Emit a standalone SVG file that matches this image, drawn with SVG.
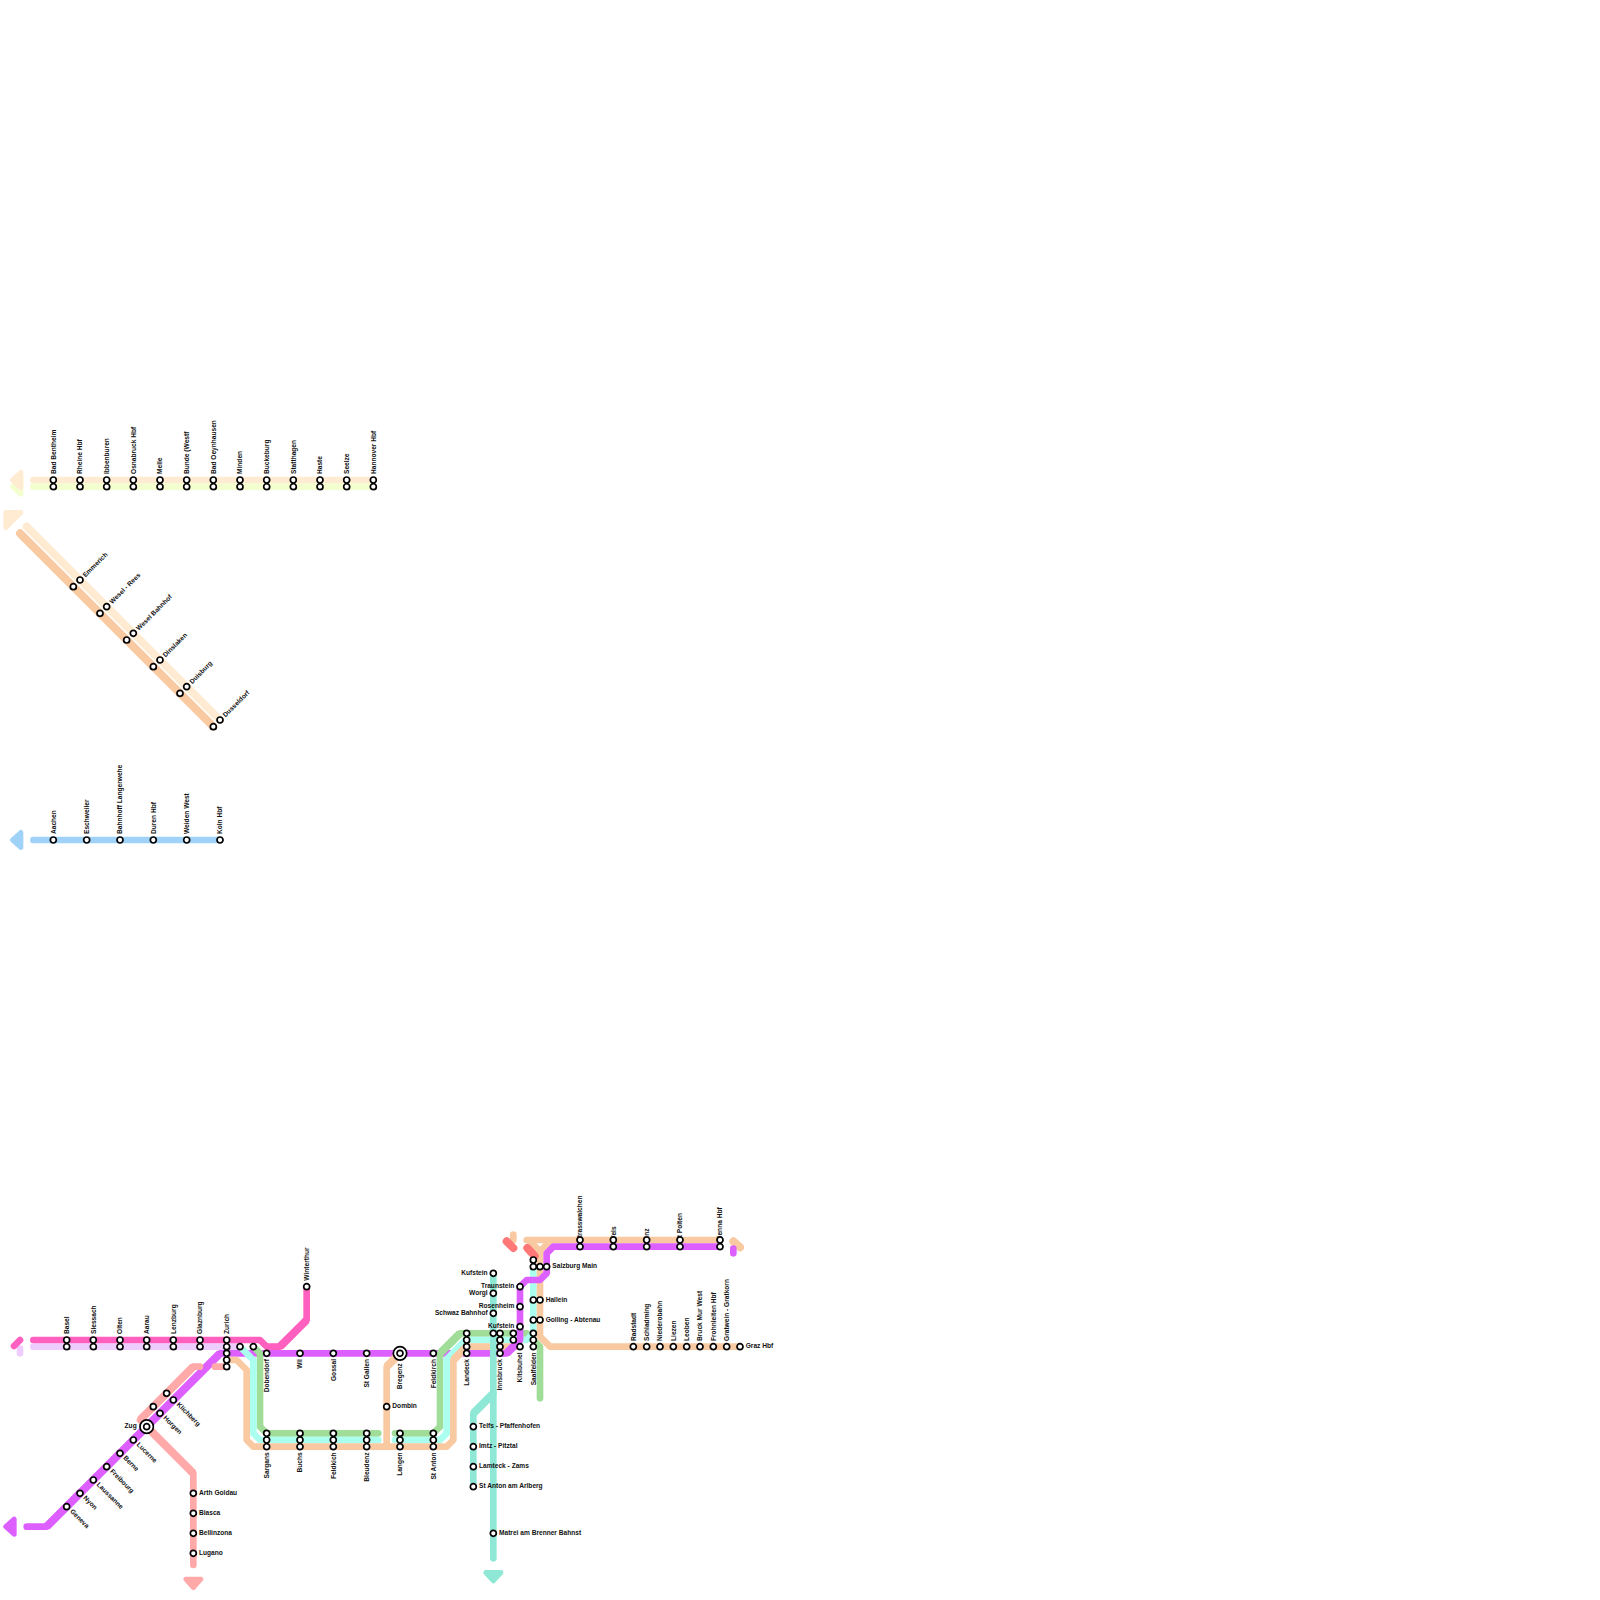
<svg xmlns="http://www.w3.org/2000/svg" width="1600" height="1600" viewBox="0 0 1600 1600">
<style>
.l{fill:none;stroke-width:1;stroke-linecap:round;stroke-linejoin:round}
.d{fill:none;stroke-width:1.2;stroke-linecap:butt}
.r{stroke-linecap:round}
.a{stroke-width:5;stroke-linejoin:round}
.st{fill:#fff;stroke:#000;stroke-width:1.7}
.bg{fill:#fff;stroke:#000;stroke-width:1.7}
text{font-family:"Liberation Sans",Arial,sans-serif;font-size:6.6px;font-weight:700;fill:#111}
.e{text-anchor:end}
.pink{stroke:#ff5fbf}.lav{stroke:#efccff}.pur{stroke:#dd5fff}.sal{stroke:#ffa9a9}.ora{stroke:#f9c9a1}
.tea{stroke:#aaffee}.gre{stroke:#a0dd99}.tes{stroke:#8fe8d5}.red{stroke:#ff7777}.sky{stroke:#a0d2f8}.lor{stroke:#ffebd2}.lim{stroke:#f3ffcf}
.fpur{fill:#dd5fff;stroke:#dd5fff}.fsal{fill:#ffa9a9;stroke:#ffa9a9}.ftes{fill:#8fe8d5;stroke:#8fe8d5}.fsky{fill:#a0d2f8;stroke:#a0d2f8}.flor{fill:#ffebd2;stroke:#ffebd2}.flim{fill:#f3ffcf;stroke:#f3ffcf}
</style>
<g id="arrows">
<polygon class="a flim" points="12.5,486.67 20.83,479.17 20.83,494.17"/>
<polygon class="a flor" points="12.5,480 20.83,472.5 20.83,487.5"/>
<polygon class="a flor" points="5.83,512.5 20.83,512.5 5.83,527.5"/>
<polygon class="a fsky" points="12.5,840 20.83,832.5 20.83,847.5"/>
<polygon class="a fpur" points="5.83,1526.67 14.16,1519.17 14.16,1534.17"/>
<polygon class="a fsal" points="185.83,1579.17 200.83,1579.17 193.33,1587.5"/>
<polygon class="a ftes" points="485.83,1572.5 500.83,1572.5 493.33,1580.83"/>
</g>
<g id="connectors" transform="scale(6.66667)">
<polyline class="l lim" points="5,73 56,73"/>
<polyline class="l lor" points="5,72 56,72"/>
<path class="d r ora" d="M3,80L32,109"/>
<path class="d r lor" d="M4,79L33,108"/>
<polyline class="l sky" points="5,126 33,126"/>
<polyline class="l pur" points="4,229 7,229 33,203 75.5,203"/><path class="d pur" d="M7,229L33,203"/>
<polyline class="l lav" points="5,202 36,202"/>
<polyline class="l lav" points="3,202.3 3,203"/>
<polyline class="l gre" points="38,202 39,203 39,214 40,215 56.75,215"/>
<polyline class="l gre" points="59.25,215 65,215 66,214 66,203 69,200 79,200 81,202 81,209.75"/><path class="d gre" d="M66,203L69,200"/>
<polyline class="l tea" points="36,202 38,204 38,215 39,216 56.75,216"/>
<polyline class="l tea" points="59.25,216 66,216 67,215 67,204 70,201 79,201 80,200 80,190"/><path class="d tea" d="M67,204L70,201"/>
<polyline class="l ora" points="34,204 35.5,204 37,205.5 37,216 38,217 67,217 68,216 68,204 70,202 78,202"/><path class="d ora" d="M68,204L70,202"/>
<polyline class="l ora" points="58,217 58,205 60,203"/><path class="d ora" d="M58,205L60,203"/>
<polyline class="l ora" points="79,186 108,186"/>
<polyline class="l ora" points="82.5,186.2 81,187.7 81,200.5 82.5,202 111,202"/>
<polyline class="l ora" points="79.5,186.2 81,187.7"/>
<polyline class="l ora" points="77,185.2 77,186"/>
<path class="d r ora" d="M110,186.2L111,187.1"/>
<polyline class="l pur" points="110,187.3 110,188"/>
<polyline class="l pur" points="75.5,203 76,203 78,201 78,193 79,192 81,192 82,191 82,188 83,187 108,187"/><path class="d pur" d="M76,203L78,201"/>
<polyline class="l pink" points="5,201 39,201 40,202 42,202 46,198 46,193"/><path class="d pink" d="M42,202L46,198"/>
<path class="l pink" d="M2.1,201.9L3,201"/>
<polyline class="l sal" points="30,205 29,205 21,213 22,214 29,221 29,234.75"/><path class="d sal" d="M29,205L21,213M22,214L29,221"/>
<polyline class="l sal" points="32.25,205 34,205"/>
<polyline class="l tes" points="74,191 74,233.75"/>
<polyline class="l tes" points="71,223 71,212 74,209"/><path class="d tes" d="M71,212L74,209"/>
<path class="d r red" d="M76,186.2L77,187.2M79.1,187.2L80.2,188.4"/>
</g>
<g id="stations">
<g id="n-bad-bentheim" transform="translate(53.33 480)"><text transform="translate(2.3 -6) rotate(-90)">Bad Bentheim</text><circle class="st" r="3"/><circle class="st" cy="6.67" r="3"/></g>
<g id="n-rheine" transform="translate(80 480)"><text transform="translate(2.3 -6) rotate(-90)">Rheine Hbf</text><circle class="st" r="3"/><circle class="st" cy="6.67" r="3"/></g>
<g id="n-ibbenburen" transform="translate(106.67 480)"><text transform="translate(2.3 -6) rotate(-90)">Ibbenburen</text><circle class="st" r="3"/><circle class="st" cy="6.67" r="3"/></g>
<g id="n-osnabruck" transform="translate(133.33 480)"><text transform="translate(2.3 -6) rotate(-90)">Osnabruck Hbf</text><circle class="st" r="3"/><circle class="st" cy="6.67" r="3"/></g>
<g id="n-melle" transform="translate(160 480)"><text transform="translate(2.3 -6) rotate(-90)">Melle</text><circle class="st" r="3"/><circle class="st" cy="6.67" r="3"/></g>
<g id="n-bunde" transform="translate(186.67 480)"><text transform="translate(2.3 -6) rotate(-90)">Bunde (Westf</text><circle class="st" r="3"/><circle class="st" cy="6.67" r="3"/></g>
<g id="n-bad-oeynhausen" transform="translate(213.33 480)"><text transform="translate(2.3 -6) rotate(-90)">Bad Oeynhausen</text><circle class="st" r="3"/><circle class="st" cy="6.67" r="3"/></g>
<g id="n-minden" transform="translate(240 480)"><text transform="translate(2.3 -6) rotate(-90)">Minden</text><circle class="st" r="3"/><circle class="st" cy="6.67" r="3"/></g>
<g id="n-buckeburg" transform="translate(266.67 480)"><text transform="translate(2.3 -6) rotate(-90)">Buckeburg</text><circle class="st" r="3"/><circle class="st" cy="6.67" r="3"/></g>
<g id="n-stadthagen" transform="translate(293.33 480)"><text transform="translate(2.3 -6) rotate(-90)">Statthagen</text><circle class="st" r="3"/><circle class="st" cy="6.67" r="3"/></g>
<g id="n-haste" transform="translate(320 480)"><text transform="translate(2.3 -6) rotate(-90)">Haste</text><circle class="st" r="3"/><circle class="st" cy="6.67" r="3"/></g>
<g id="n-seelze" transform="translate(346.67 480)"><text transform="translate(2.3 -6) rotate(-90)">Seelze</text><circle class="st" r="3"/><circle class="st" cy="6.67" r="3"/></g>
<g id="n-hannover" transform="translate(373.33 480)"><text transform="translate(2.3 -6) rotate(-90)">Hannover Hbf</text><circle class="st" r="3"/><circle class="st" cy="6.67" r="3"/></g>

<g id="n-emmerich" transform="translate(80 580)"><text transform="translate(5.5 -2.5) rotate(-45)">Emmerich</text><circle class="st" r="3"/><circle class="st" cx="-6.67" cy="6.67" r="3"/></g>
<g id="n-wesel-rees" transform="translate(106.67 606.67)"><text transform="translate(5.5 -2.5) rotate(-45)">Wesel - Rees</text><circle class="st" r="3"/><circle class="st" cx="-6.67" cy="6.67" r="3"/></g>
<g id="n-wesel-bahnhof" transform="translate(133.33 633.33)"><text transform="translate(5.5 -2.5) rotate(-45)">Wesel Bahnhof</text><circle class="st" r="3"/><circle class="st" cx="-6.67" cy="6.67" r="3"/></g>
<g id="n-dinslaken" transform="translate(160 660)"><text transform="translate(5.5 -2.5) rotate(-45)">Dinslaken</text><circle class="st" r="3"/><circle class="st" cx="-6.67" cy="6.67" r="3"/></g>
<g id="n-duisburg" transform="translate(186.67 686.67)"><text transform="translate(5.5 -2.5) rotate(-45)">Duisburg</text><circle class="st" r="3"/><circle class="st" cx="-6.67" cy="6.67" r="3"/></g>
<g id="n-dusseldorf" transform="translate(220 720)"><text transform="translate(5.5 -2.5) rotate(-45)">Dusseldorf</text><circle class="st" r="3"/><circle class="st" cx="-6.67" cy="6.67" r="3"/></g>

<g id="n-aachen" transform="translate(53.33 840)"><text transform="translate(2.3 -6) rotate(-90)">Aachen</text><circle class="st" r="3"/></g>
<g id="n-eschweiler" transform="translate(86.67 840)"><text transform="translate(2.3 -6) rotate(-90)">Eschweiler</text><circle class="st" r="3"/></g>
<g id="n-langerwehe" transform="translate(120 840)"><text transform="translate(2.3 -6) rotate(-90)">Bahnhoff Langerwehe</text><circle class="st" r="3"/></g>
<g id="n-duren" transform="translate(153.33 840)"><text transform="translate(2.3 -6) rotate(-90)">Duren Hbf</text><circle class="st" r="3"/></g>
<g id="n-weiden" transform="translate(186.67 840)"><text transform="translate(2.3 -6) rotate(-90)">Weiden West</text><circle class="st" r="3"/></g>
<g id="n-koln" transform="translate(220 840)"><text transform="translate(2.3 -6) rotate(-90)">Koln Hbf</text><circle class="st" r="3"/></g>

<g id="n-basel" transform="translate(66.67 1340)"><text transform="translate(2.3 -6) rotate(-90)">Basel</text><circle class="st" r="3"/><circle class="st" cy="6.67" r="3"/></g>
<g id="n-slessach" transform="translate(93.33 1340)"><text transform="translate(2.3 -6) rotate(-90)">Slessach</text><circle class="st" r="3"/><circle class="st" cy="6.67" r="3"/></g>
<g id="n-olten" transform="translate(120 1340)"><text transform="translate(2.3 -6) rotate(-90)">Olten</text><circle class="st" r="3"/><circle class="st" cy="6.67" r="3"/></g>
<g id="n-aarau" transform="translate(146.67 1340)"><text transform="translate(2.3 -6) rotate(-90)">Aarau</text><circle class="st" r="3"/><circle class="st" cy="6.67" r="3"/></g>
<g id="n-lenzburg" transform="translate(173.33 1340)"><text transform="translate(2.3 -6) rotate(-90)">Lenzburg</text><circle class="st" r="3"/><circle class="st" cy="6.67" r="3"/></g>
<g id="n-glaznburg" transform="translate(200 1340)"><text transform="translate(2.3 -6) rotate(-90)">Glaznburg</text><circle class="st" r="3"/><circle class="st" cy="6.67" r="3"/></g>
<g id="n-zurich" transform="translate(226.67 1340)"><text transform="translate(2.3 -6) rotate(-90)">Zurich</text><circle class="st" r="3"/><circle class="st" cy="6.67" r="3"/><circle class="st" cy="13.33" r="3"/><circle class="st" cy="20" r="3"/><circle class="st" cy="26.67" r="3"/></g>
<g id="n-x1" transform="translate(240 1346.67)"><circle class="st" r="3"/></g>
<g id="n-x2" transform="translate(253.33 1346.67)"><circle class="st" r="3"/></g>
<g id="n-winterthur" transform="translate(306.67 1286.67)"><text transform="translate(2.3 -6) rotate(-90)">Winterthur</text><circle class="st" r="3"/></g>

<g id="n-geneva" transform="translate(66.67 1506.67)"><text transform="translate(3 5) rotate(45)">Geneva</text><circle class="st" r="3"/></g>
<g id="n-nyon" transform="translate(80 1493.33)"><text transform="translate(3 5) rotate(45)">Nyon</text><circle class="st" r="3"/></g>
<g id="n-lausanne" transform="translate(93.33 1480)"><text transform="translate(3 5) rotate(45)">Laussanne</text><circle class="st" r="3"/></g>
<g id="n-freibourg" transform="translate(106.67 1466.67)"><text transform="translate(3 5) rotate(45)">Freibourg</text><circle class="st" r="3"/></g>
<g id="n-berne" transform="translate(120 1453.33)"><text transform="translate(3 5) rotate(45)">Berne</text><circle class="st" r="3"/></g>
<g id="n-lucerne" transform="translate(133.33 1440)"><text transform="translate(3 5) rotate(45)">Lucerne</text><circle class="st" r="3"/></g>
<g id="n-zug" transform="translate(146.67 1426.67)"><text class="e" x="-10" y="1.7">Zug</text><circle class="bg" r="6.7"/><circle class="st" r="3"/></g>
<g id="n-horgen" transform="translate(160 1413.33)"><text transform="translate(3 5) rotate(45)">Horgen</text><circle class="st" r="3"/><circle class="st" cx="-6.67" cy="-6.67" r="3"/></g>
<g id="n-kilchberg" transform="translate(173.33 1400)"><text transform="translate(3 5) rotate(45)">Klichberg</text><circle class="st" r="3"/><circle class="st" cx="-6.67" cy="-6.67" r="3"/></g>
<g id="n-arth" transform="translate(193.33 1493.33)"><text x="5.7" y="1.7">Arth Goldau</text><circle class="st" r="3"/></g>
<g id="n-biasca" transform="translate(193.33 1513.33)"><text x="5.7" y="1.7">Biasca</text><circle class="st" r="3"/></g>
<g id="n-bellinzona" transform="translate(193.33 1533.33)"><text x="5.7" y="1.7">Bellinzona</text><circle class="st" r="3"/></g>
<g id="n-lugano" transform="translate(193.33 1553.33)"><text x="5.7" y="1.7">Lugano</text><circle class="st" r="3"/></g>

<g id="n-dobendorf" transform="translate(266.67 1353.33)"><text class="e" transform="translate(2.3 5.7) rotate(-90)">Dobendorf</text><circle class="st" r="3"/></g>
<g id="n-wil" transform="translate(300 1353.33)"><text class="e" transform="translate(2.3 5.7) rotate(-90)">Wil</text><circle class="st" r="3"/></g>
<g id="n-gossal" transform="translate(333.33 1353.33)"><text class="e" transform="translate(2.3 5.7) rotate(-90)">Gossal</text><circle class="st" r="3"/></g>
<g id="n-st-gallen" transform="translate(366.67 1353.33)"><text class="e" transform="translate(2.3 5.7) rotate(-90)">St Gallen</text><circle class="st" r="3"/></g>
<g id="n-bregenz" transform="translate(400 1353.33)"><text class="e" transform="translate(2.3 10) rotate(-90)">Bregenz</text><circle class="bg" r="6.7"/><circle class="st" r="3"/></g>
<g id="n-feldkirch-1" transform="translate(433.33 1353.33)"><text class="e" transform="translate(2.3 5.7) rotate(-90)">Feldkirch</text><circle class="st" r="3"/></g>
<g id="n-dombin" transform="translate(386.67 1406.67)"><text x="5.7" y="1.7">Dombin</text><circle class="st" r="3"/></g>

<g id="n-sargans" transform="translate(266.67 1446.67)"><text class="e" transform="translate(2.3 5.7) rotate(-90)">Sargans</text><circle class="st" r="3"/><circle class="st" cy="-6.67" r="3"/><circle class="st" cy="-13.33" r="3"/></g>
<g id="n-buchs" transform="translate(300 1446.67)"><text class="e" transform="translate(2.3 5.7) rotate(-90)">Buchs</text><circle class="st" r="3"/><circle class="st" cy="-6.67" r="3"/><circle class="st" cy="-13.33" r="3"/></g>
<g id="n-feldkirch-2" transform="translate(333.33 1446.67)"><text class="e" transform="translate(2.3 5.7) rotate(-90)">Feldkich</text><circle class="st" r="3"/><circle class="st" cy="-6.67" r="3"/><circle class="st" cy="-13.33" r="3"/></g>
<g id="n-bleudenz" transform="translate(366.67 1446.67)"><text class="e" transform="translate(2.3 5.7) rotate(-90)">Bleudenz</text><circle class="st" r="3"/><circle class="st" cy="-6.67" r="3"/><circle class="st" cy="-13.33" r="3"/></g>
<g id="n-langen" transform="translate(400 1446.67)"><text class="e" transform="translate(2.3 5.7) rotate(-90)">Langen</text><circle class="st" r="3"/><circle class="st" cy="-6.67" r="3"/><circle class="st" cy="-13.33" r="3"/></g>
<g id="n-st-anton" transform="translate(433.33 1446.67)"><text class="e" transform="translate(2.3 5.7) rotate(-90)">St Anton</text><circle class="st" r="3"/><circle class="st" cy="-6.67" r="3"/><circle class="st" cy="-13.33" r="3"/></g>

<g id="n-landeck" transform="translate(466.67 1353.33)"><text class="e" transform="translate(2.3 5.7) rotate(-90)">Landeck</text><circle class="st" r="3"/><circle class="st" cy="-6.67" r="3"/><circle class="st" cy="-13.33" r="3"/><circle class="st" cy="-20" r="3"/></g>
<g id="n-innsbruck" transform="translate(500 1353.33)"><text class="e" transform="translate(2.3 5.7) rotate(-90)">Innsbruck</text><circle class="st" r="3"/><circle class="st" cy="-6.67" r="3"/><circle class="st" cy="-13.33" r="3"/><circle class="st" cy="-20" r="3"/></g>
<g id="n-x3" transform="translate(493.33 1333.33)"><circle class="st" r="3"/></g>
<g id="n-x4" transform="translate(513.33 1333.33)"><circle class="st" r="3"/><circle class="st" cy="6.67" r="3"/></g>
<g id="n-kitsbuhel" transform="translate(520 1346.67)"><text class="e" transform="translate(2.3 5.7) rotate(-90)">Kitsbuhel</text><circle class="st" r="3"/></g>
<g id="n-saalfelden" transform="translate(533.33 1346.67)"><text class="e" transform="translate(2.3 5.7) rotate(-90)">Saalfelden</text><circle class="st" r="3"/><circle class="st" cy="-6.67" r="3"/><circle class="st" cy="-13.33" r="3"/></g>
<g id="n-kufstein-1" transform="translate(493.33 1273.33)"><text class="e" x="-5.7" y="1.7">Kufstein</text><circle class="st" r="3"/></g>
<g id="n-worgl" transform="translate(493.33 1293.33)"><text class="e" x="-5.7" y="1.7">Worgl</text><circle class="st" r="3"/></g>
<g id="n-schwaz" transform="translate(493.33 1313.33)"><text class="e" x="-5.7" y="1.7">Schwaz Bahnhof</text><circle class="st" r="3"/></g>
<g id="n-traunstein" transform="translate(520 1286.67)"><text class="e" x="-5.7" y="1.7">Traunstein</text><circle class="st" r="3"/></g>
<g id="n-rosenheim" transform="translate(520 1306.67)"><text class="e" x="-5.7" y="1.7">Rosenheim</text><circle class="st" r="3"/></g>
<g id="n-kufstein-2" transform="translate(520 1326.67)"><text class="e" x="-5.7" y="1.7">Kufstein</text><circle class="st" r="3"/></g>

<g id="n-telfs" transform="translate(473.33 1426.67)"><text x="5.7" y="1.7">Telfs - Pfaffenhofen</text><circle class="st" r="3"/></g>
<g id="n-imtz" transform="translate(473.33 1446.67)"><text x="5.7" y="1.7">Imtz - Pitztal</text><circle class="st" r="3"/></g>
<g id="n-lamteck" transform="translate(473.33 1466.67)"><text x="5.7" y="1.7">Lamteck - Zams</text><circle class="st" r="3"/></g>
<g id="n-st-anton-arlberg" transform="translate(473.33 1486.67)"><text x="5.7" y="1.7">St Anton am Arlberg</text><circle class="st" r="3"/></g>
<g id="n-matrei" transform="translate(493.33 1533.33)"><text x="5.7" y="1.7">Matrei am Brenner Bahnst</text><circle class="st" r="3"/></g>

<g id="n-salzburg" transform="translate(546.67 1266.67)"><text x="5.7" y="1.7">Salzburg Main</text><circle class="st" r="3"/><circle class="st" cx="-6.67" r="3"/><circle class="st" cx="-13.33" r="3"/><circle class="st" cx="-13.33" cy="-6.67" r="3"/></g>
<g id="n-hallein" transform="translate(540 1300)"><text x="5.7" y="1.7">Hallein</text><circle class="st" r="3"/><circle class="st" cx="-6.67" r="3"/></g>
<g id="n-golling" transform="translate(540 1320)"><text x="5.7" y="1.7">Golling - Abtenau</text><circle class="st" r="3"/><circle class="st" cx="-6.67" r="3"/></g>

<g id="n-strasswalchen" transform="translate(580 1246.67)"><text transform="translate(2.3 -5) rotate(-90)">Strasswalchen</text><circle class="st" r="3"/><circle class="st" cy="-6.67" r="3"/></g>
<g id="n-wels" transform="translate(613.33 1246.67)"><text transform="translate(2.3 -5) rotate(-90)">Wels</text><circle class="st" r="3"/><circle class="st" cy="-6.67" r="3"/></g>
<g id="n-linz" transform="translate(646.67 1246.67)"><text transform="translate(2.3 -5) rotate(-90)">Linz</text><circle class="st" r="3"/><circle class="st" cy="-6.67" r="3"/></g>
<g id="n-st-polten" transform="translate(680 1246.67)"><text transform="translate(2.3 -5) rotate(-90)">St Polten</text><circle class="st" r="3"/><circle class="st" cy="-6.67" r="3"/></g>
<g id="n-vienna" transform="translate(720 1246.67)"><text transform="translate(2.3 -5) rotate(-90)">Vienna Hbf</text><circle class="st" r="3"/><circle class="st" cy="-6.67" r="3"/></g>

<g id="n-radstadt" transform="translate(633.33 1346.67)"><text transform="translate(2.3 -5.7) rotate(-90)">Radstadt</text><circle class="st" r="3"/></g>
<g id="n-schladming" transform="translate(646.67 1346.67)"><text transform="translate(2.3 -5.7) rotate(-90)">Schladming</text><circle class="st" r="3"/></g>
<g id="n-niederobahn" transform="translate(660 1346.67)"><text transform="translate(2.3 -5.7) rotate(-90)">Niederobahn</text><circle class="st" r="3"/></g>
<g id="n-liezen" transform="translate(673.33 1346.67)"><text transform="translate(2.3 -5.7) rotate(-90)">Liezen</text><circle class="st" r="3"/></g>
<g id="n-leoben" transform="translate(686.67 1346.67)"><text transform="translate(2.3 -5.7) rotate(-90)">Leoben</text><circle class="st" r="3"/></g>
<g id="n-bruck" transform="translate(700 1346.67)"><text transform="translate(2.3 -5.7) rotate(-90)">Bruck Mur West</text><circle class="st" r="3"/></g>
<g id="n-frohnleiten" transform="translate(713.33 1346.67)"><text transform="translate(2.3 -5.7) rotate(-90)">Frohnleiten Hbf</text><circle class="st" r="3"/></g>
<g id="n-gratwein" transform="translate(726.67 1346.67)"><text transform="translate(2.3 -5.7) rotate(-90)">Gratwein - Gratkorn</text><circle class="st" r="3"/></g>
<g id="n-graz" transform="translate(740 1346.67)"><text x="5.7" y="1.7">Graz Hbf</text><circle class="st" r="3"/></g>
</g>
</svg>
